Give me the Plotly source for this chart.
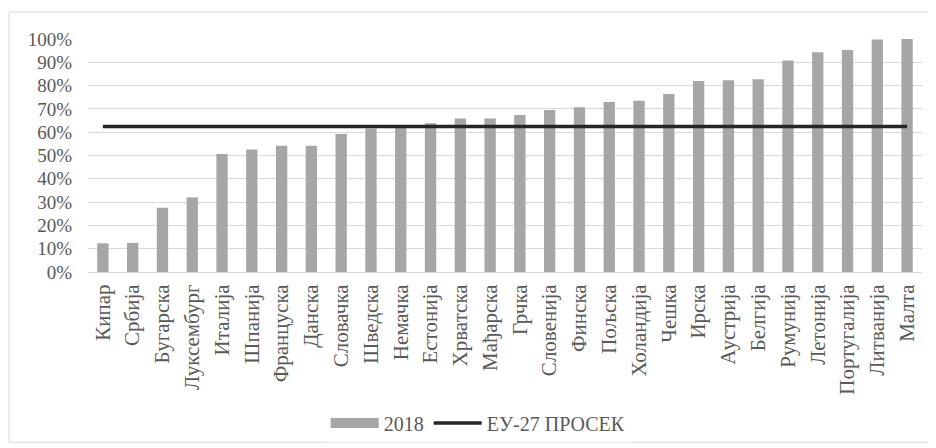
import plotly.graph_objects as go

countries = ["Кипар", "Србија", "Бугарска", "Луксембург", "Италија", "Шпанија",
             "Француска", "Данска", "Словачка", "Шведска", "Немачка", "Естонија",
             "Хрватска", "Мађарска", "Грчка", "Словенија", "Финска", "Пољска",
             "Холандија", "Чешка", "Ирска", "Аустрија", "Белгија", "Румунија",
             "Летонија", "Португалија", "Литванија", "Малта"]
values_2018 = [12.3, 12.5, 27.6, 32.0, 50.6, 52.6, 54.2, 54.2, 59.2, 61.6, 62.6, 63.8,
               65.9, 65.9, 67.4, 69.5, 70.7, 73.0, 73.5, 76.4, 82.0, 82.3, 82.7, 90.8,
               94.3, 95.3, 99.8, 100.0]
eu27_avg = 62.4
y_ticks = list(range(0, 101, 10))
y_tick_labels = [f"{v}%" for v in y_ticks]

font_family = "Liberation Serif"
text_color = "#595959"
bar_color = "#a6a6a6"

fig = go.Figure()
fig.add_trace(go.Bar(x=countries, y=values_2018, name="2018", showlegend=False,
                     legendgroup="bars",
                     marker=dict(color=bar_color, line=dict(width=0))))
# legend swatch for the bars (wide rectangle like the original)
fig.add_trace(go.Scatter(x=[countries[0]], y=[None], name="2018", mode="lines",
                         legendgroup="bars", hoverinfo="skip",
                         line=dict(color=bar_color, width=10)))
fig.add_trace(go.Scatter(x=countries, y=[eu27_avg] * len(countries), name="ЕУ-27 ПРОСЕК",
                         mode="lines", line=dict(color="#262626", width=3.5)))

fig.update_layout(
    width=928, height=440,
    margin=dict(l=80, r=14, t=31, b=176, autoexpand=False),
    paper_bgcolor="white", plot_bgcolor="white",
    font=dict(family=font_family, color=text_color, size=19),
    bargap=0.62,
    showlegend=True,
    legend=dict(orientation="h", x=0.285, xanchor="left", y=-0.648, yanchor="middle",
                font=dict(size=20, color=text_color), itemwidth=48,
                traceorder="normal"),
    shapes=[dict(type="rect", xref="paper", yref="paper",
                 x0=-0.0947, x1=1.0144, y0=-0.73, y1=1.116,
                 line=dict(color="#d9d9d9", width=1))],
)
fig.update_xaxes(tickangle=-90, showgrid=False, showline=True, linecolor="#d9d9d9",
                 tickfont=dict(size=21, color=text_color), ticks="", automargin=False,
                 ticklabelstandoff=3)
fig.update_yaxes(range=[0, 100], tickvals=y_ticks, ticktext=y_tick_labels, showgrid=True,
                 gridcolor="#d9d9d9", zeroline=False, showline=False, automargin=False,
                 tickfont=dict(size=19, color=text_color), ticklabelstandoff=15)

fig.write_html("out.html")
